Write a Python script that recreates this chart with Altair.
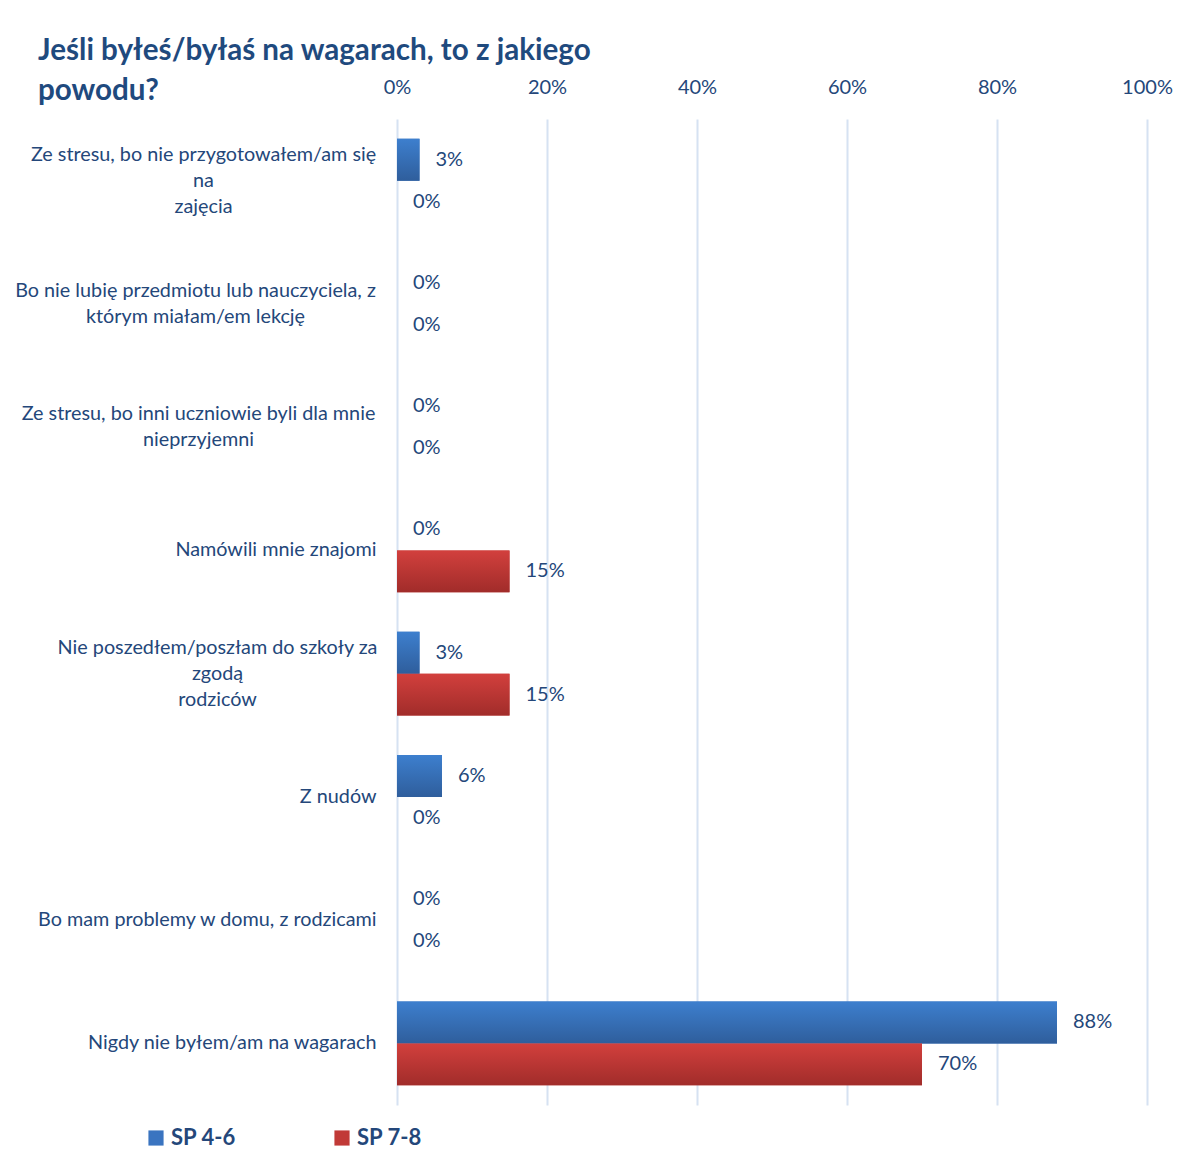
import altair as alt
import pandas as pd

categories = [
    "Ze stresu, bo nie przygotowałem/am się|na|zajęcia",
    "Bo nie lubię przedmiotu lub nauczyciela, z|którym miałam/em lekcję",
    "Ze stresu, bo inni uczniowie byli dla mnie|nieprzyjemni",
    "Namówili mnie znajomi",
    "Nie poszedłem/poszłam  do szkoły za|zgodą|rodziców",
    "Z nudów",
    "Bo mam problemy w domu, z rodzicami",
    "Nigdy nie byłem/am na wagarach",
]
series_names = ["SP 4-6", "SP 7-8"]
sp46 = [0.03, 0.0, 0.0, 0.0, 0.03, 0.06, 0.0, 0.88]
sp78 = [0.0, 0.0, 0.0, 0.15, 0.15, 0.0, 0.0, 0.70]
x_ticks = [0, 0.2, 0.4, 0.6, 0.8, 1.0]

rows = []
for c, a, b in zip(categories, sp46, sp78):
    rows.append({"cat": c, "series": series_names[0], "value": a})
    rows.append({"cat": c, "series": series_names[1], "value": b})
df = pd.DataFrame(rows)

FONT = "Lato"
TEXT = "#24477a"
BLUE = "#3a74c0"
RED = "#c13a37"

blue_grad = alt.Gradient(
    gradient="linear", x1=0, x2=0, y1=0, y2=1,
    stops=[alt.GradientStop(color="#3d7fce", offset=0),
           alt.GradientStop(color="#2f5e9c", offset=1)],
)
red_grad = alt.Gradient(
    gradient="linear", x1=0, x2=0, y1=0, y2=1,
    stops=[alt.GradientStop(color="#d2403d", offset=0),
           alt.GradientStop(color="#a12c2a", offset=1)],
)

nlines = "length(split(datum.label, '|'))"
multi = "indexof(datum.label, '|') >= 0"


def is_cat(i):
    return "datum.value == " + repr(categories[i])


y_enc = alt.Y(
    "cat:N", sort=categories, title=None,
    scale=alt.Scale(paddingInner=0.32, paddingOuter=0.16),
    axis=alt.Axis(
        labelExpr="split(datum.label, '|')",
        labelAlign={"condition": {"test": multi, "value": "center"}, "value": "right"},
        labelBaseline="middle",
        labelFont=FONT, labelFontSize=19.8, labelColor=TEXT,
        labelLineHeight=26, labelLimit=0,
        labelPadding={
            "condition": [
                {"test": is_cat(0), "value": 194},
                {"test": is_cat(1), "value": 202},
                {"test": is_cat(2), "value": 199},
                {"test": is_cat(4), "value": 180},
            ],
            "value": 21,
        },
        labelOffset={
            "condition": [
                {"test": nlines + " == 3", "value": -26},
                {"test": nlines + " == 2", "value": -13},
            ],
            "value": 0,
        },
        ticks=False, domain=False, grid=False,
    ),
)
yoff_enc = alt.YOffset("series:N", sort=series_names,
                       scale=alt.Scale(domain=series_names))
x_enc = alt.X(
    "value:Q", title=None,
    scale=alt.Scale(domain=[0, 1], nice=False),
    axis=alt.Axis(
        orient="top", values=x_ticks, format=".0%",
        labelFont=FONT, labelFontSize=20, labelColor=TEXT,
        labelPadding=22, labelFlush=False, ticks=False, domain=False,
        grid=True, gridColor="#d6e2f2", gridWidth=2,
    ),
)

base = alt.Chart(df).encode(y=y_enc, yOffset=yoff_enc, x=x_enc)

legend_bars = base.mark_bar().encode(
    color=alt.Color(
        "series:N", sort=series_names,
        scale=alt.Scale(domain=series_names, range=[BLUE, RED]),
        legend=alt.Legend(
            title=None, orient="none", direction="horizontal",
            legendX=-252, legendY=1008,
            symbolType="square", symbolSize=230, symbolStrokeWidth=0,
            labelFont=FONT, labelFontSize=22, labelFontWeight="bold",
            labelColor=TEXT, columnPadding=95, labelOffset=4,
        ),
    )
)
bars_blue = base.transform_filter(alt.datum.series == series_names[0]).mark_bar(color=blue_grad)
bars_red = base.transform_filter(alt.datum.series == series_names[1]).mark_bar(color=red_grad)

labels = base.mark_text(
    align="left", baseline="middle", dx=16,
    font=FONT, fontSize=20, color=TEXT,
).encode(text=alt.Text("value:Q", format=".0%"))

chart = (
    alt.layer(legend_bars, bars_blue, bars_red, labels)
    .properties(
        width=750, height=986,
        title=alt.TitleParams(
            ["Jeśli byłeś/byłaś na wagarach, to z jakiego", "powodu?"],
            anchor="start", frame="group", dx=-359, dy=34,
            font=FONT, fontSize=29.6, fontWeight="bold", color="#1f4a7e",
            lineHeight=40,
        ),
        autosize=alt.AutoSizeParams(type="none"),
        padding={"left": 389, "top": 111, "right": 40, "bottom": 60},
    )
    .configure(background="white")
    .configure_view(stroke=None)
)

chart.save("out.html", embed_options={"renderer": "svg", "actions": False})
